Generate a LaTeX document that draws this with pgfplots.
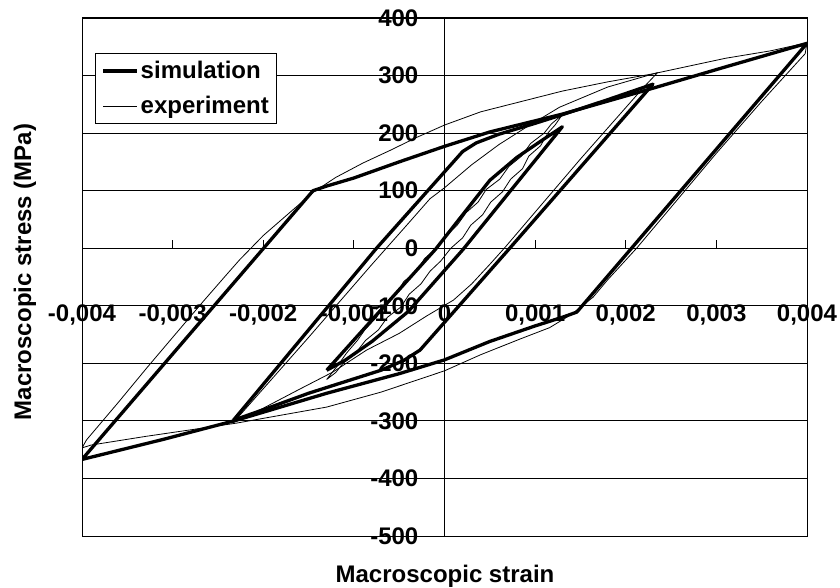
\documentclass[border=0pt]{standalone}
\usepackage{fontspec}
\setmainfont{Liberation Sans}
\usepackage{pgfplots}
\pgfplotsset{compat=1.18}
\newcommand{\lbl}{\bfseries\fontsize{24bp}{26bp}\selectfont}
\begin{document}
\begin{tikzpicture}
\useasboundingbox (0,0) rectangle (840bp,588bp);
\begin{axis}[
  at={(82bp,52bp)}, anchor=south west,
  scale only axis, width=725bp, height=518bp,
  xmin=-0.004, xmax=0.004, ymin=-500, ymax=400,
  axis lines=middle,
  axis line style={line width=1.3bp, -},
  hide obscured x ticks=false, hide obscured y ticks=false,
  scaled x ticks=false, scaled y ticks=false,
  xtick={-0.004,-0.003,-0.002,-0.001,0,0.001,0.002,0.003,0.004},
  xticklabels={{-0,004},{-0,003},{-0,002},{-0,001},{0},{0,001},{0,002},{0,003},{0,004}},
  ytick={-500,-400,-300,-200,-100,0,100,200,300,400},
  yticklabels={{-500},{-400},{-300},{-200},{-100},{0},{100},{200},{300},{400}},
  tick align=inside,
  major tick length=8bp,
  tick style={black, line width=1bp},
  ticklabel style={font=\lbl, inner sep=0pt},
  xticklabel style={anchor=north, yshift=-56bp},
  yticklabel style={anchor=east, xshift=-26bp},
  ymajorgrids,
  major grid style={black, line width=0.8bp},
  xlabel={Macroscopic strain},
  ylabel={Macroscopic stress (MPa)},
  label style={font=\lbl},
  xlabel style={at={(axis description cs:0.5007,-0.0907)}, anchor=base},
  ylabel style={at={(axis description cs:-0.0786,0.5097)}, anchor=center, rotate=90},
  legend style={at={(axis description cs:0.018,0.932)}, anchor=north west,
    draw=black, line width=0.8bp, fill=white, font=\lbl,
    inner sep=6bp, row sep=12bp},
  legend cell align=left,
  legend image code/.code={\draw[#1] (0bp,0bp) -- (34bp,0bp);},
  every axis plot/.append style={line join=round},
  after end axis/.code={\draw[line width=1bp] (rel axis cs:0,0) rectangle (rel axis cs:1,1);},
]
% simulation, large loop
\addplot[black, line width=3.3bp] coordinates {
(-0.004,-367) (-0.00145,100) (-0.0013,108) (-0.0010,122) (-0.0005,150) (0,177) (0.0005,202) (0.0013,233) (0.0023,278) (0.0031,315) (0.004,356)
(0.00146,-111) (0.0013,-120) (0.0010,-135) (0.0005,-162) (0,-194) (-0.0005,-218) (-0.0013,-252) (-0.0023,-299) (-0.0031,-332) (-0.004,-367)};
\addlegendentry{simulation}
% experiment, large loop
\addplot[black, line width=0.8bp] coordinates {
(-0.004,-347) (-0.00395,-333) (-0.0036,-268) (-0.00328,-207) (-0.003,-155) (-0.00266,-92) (-0.0024,-45) (-0.00226,-20) (-0.0020,22) (-0.0017,63) (-0.00145,97) (-0.0012,123) (-0.0009,148) (-0.0006,170) (-0.0003,193) (0,214) (0.0004,237) (0.0009,257) (0.0013,273) (0.0018,289) (0.0023,303) (0.0031,330) (0.0036,343) (0.004,357)
(0.00398,338) (0.0035,255) (0.003,165) (0.0026,90) (0.00212,0) (0.0018,-55) (0.00164,-85) (0.0014,-115) (0.00116,-138) (0.00083,-158) (0.0004,-185) (0,-213) (-0.0007,-250) (-0.0013,-276) (-0.0023,-304) (-0.0033,-327) (-0.0039,-342) (-0.004,-347)};
\addlegendentry{experiment}
% simulation, medium loop
\addplot[black, line width=3.3bp, forget plot] coordinates {
(-0.00233,-299) (-0.00075,0) (0.0002,168) (0.00035,183) (0.0006,198) (0.0010,217) (0.0013,232) (0.0018,258) (0.0023,285)
(0.00072,0) (-0.00027,-177) (-0.00045,-195) (-0.0007,-212) (-0.0011,-232) (-0.0015,-252) (-0.0019,-275) (-0.00233,-299)};
% simulation, small loop
\addplot[black, line width=3.3bp, forget plot] coordinates {
(-0.0013,-212) (-0.0001,-2) (0.0005,118) (0.0008,158) (0.0011,190) (0.0013,211)
(0.0002,-3) (-0.0004,-110) (-0.0008,-162) (-0.0011,-195) (-0.0013,-212)};
% experiment, medium loop
\addplot[black, line width=0.8bp, forget plot] coordinates {
(-0.00233,-303) (-0.0015,-155) (-0.0008,-28) (-0.0004,43) (-0.00016,86) (0,105) (0.0003,145) (0.0006,180) (0.0009,210) (0.00127,245) (0.0018,280) (0.00235,305)
(0.0022,280) (0.0015,155) (0.00066,0) (0.0005,-28) (0.0003,-62) (0.0001,-90) (-0.0002,-118) (-0.0005,-148) (-0.00086,-177) (-0.00123,-215) (-0.0016,-245) (-0.002,-278) (-0.00233,-303)};
% experiment, small loop
\addplot[black, line width=0.8bp, forget plot] coordinates {
(-0.0013,-228) (-0.00123,-214) (-0.00116,-200) (-0.00108,-182) (-0.00096,-160) (-0.00088,-142) (-0.00075,-120) (-0.00066,-98) (-0.00053,-80) (-0.00045,-58) (-0.00031,-40) (-0.00022,-18) (-0.00009,0) (0.00002,22) (0.00014,40) (0.00024,62) (0.00037,80) (0.00046,102) (0.00061,120) (0.00071,142) (0.00085,160) (0.00095,182) (0.00110,200) (0.00118,216) (0.0013,232)
(0.00122,214) (0.00114,200) (0.00106,178) (0.00093,160) (0.00086,138) (0.00073,120) (0.00064,98) (0.00051,80) (0.00042,58) (0.00029,40) (0.00020,18) (0.00007,0) (-0.00004,-22) (-0.00016,-40) (-0.00026,-62) (-0.00039,-80) (-0.00048,-102) (-0.00063,-120) (-0.00073,-142) (-0.00087,-160) (-0.00098,-182) (-0.00112,-200) (-0.00120,-216) (-0.0013,-228)};
\end{axis}
\end{tikzpicture}
\end{document}
